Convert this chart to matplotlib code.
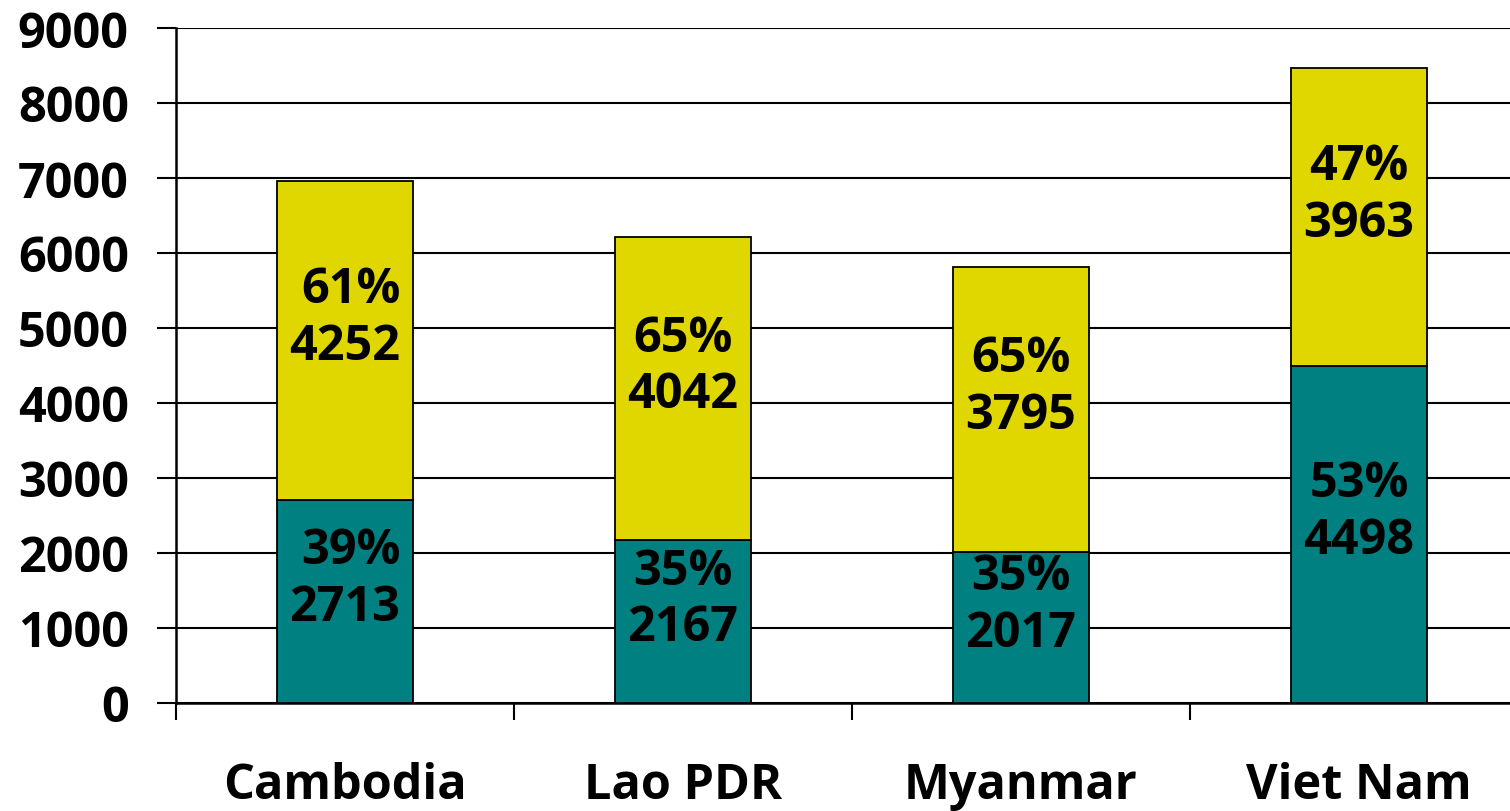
import matplotlib.pyplot as plt
import numpy as np

countries = ['Cambodia', 'Lao PDR', 'Myanmar', 'Viet Nam']
lower_vals = [2713, 2167, 2017, 4498]
upper_vals = [4252, 4042, 3795, 3963]
lower_pct = ['39%', '35%', '35%', '53%']
upper_pct = ['61%', '65%', '65%', '47%']
yticks = [0, 1000, 2000, 3000, 4000, 5000, 6000, 7000, 8000, 9000]

teal = '#008080'
yellow = '#E0D600'

plt.rcParams['font.family'] = ['Open Sans', 'DejaVu Sans']
plt.rcParams['font.weight'] = 'bold'

fig = plt.figure(figsize=(15.1, 8.12), dpi=100)
ax = fig.add_axes([176/1510, 108/812, 1 - 176/1510, 675/812])

x = np.arange(len(countries))
w = 0.4
ax.bar(x, lower_vals, w, color=teal, edgecolor='black', linewidth=1.3, zorder=3)
ax.bar(x, upper_vals, w, bottom=lower_vals, color=yellow, edgecolor='black', linewidth=1.3, zorder=3)

# labels sit a bit above the middle of each segment, like the original
align = ['right', 'center', 'center', 'center']
for i in range(len(countries)):
    ymid_lo = lower_vals[i] / 2
    ymid_hi = lower_vals[i] + upper_vals[i] / 2
    for ym, pct, v in [(ymid_lo, lower_pct[i], lower_vals[i]), (ymid_hi, upper_pct[i], upper_vals[i])]:
        ax.annotate(pct + '\n' + str(v), (x[i], ym), xytext=(0, 16), textcoords='offset points',
                    ha='center', va='center', multialignment=align[i], linespacing=1.2,
                    fontsize=35, fontweight='bold', zorder=4)

ax.set_yticks(yticks)
ax.set_yticklabels([str(t) for t in yticks], fontsize=35, fontweight='bold')
ax.yaxis.grid(True, color='black', linewidth=1.5, zorder=0)
ax.set_axisbelow(True)

ax.set_xticks(x)
ax.set_xticklabels(countries, fontsize=35, fontweight='bold')
ax.set_xticks(np.arange(len(countries) + 1) - 0.5, minor=True)
ax.tick_params(axis='x', which='major', length=0, pad=42)
ax.tick_params(axis='x', which='minor', length=12, width=1.5, direction='out')
ax.tick_params(axis='y', length=14, width=1.5, pad=20)

ax.set_ylim(0, 9000)
ax.set_xlim(-0.5, -0.5 + 1334/338)

for s in ['top', 'right']:
    ax.spines[s].set_visible(False)
ax.spines['left'].set_linewidth(1.8)
ax.spines['bottom'].set_linewidth(1.8)

plt.savefig('out.png', dpi=100)
